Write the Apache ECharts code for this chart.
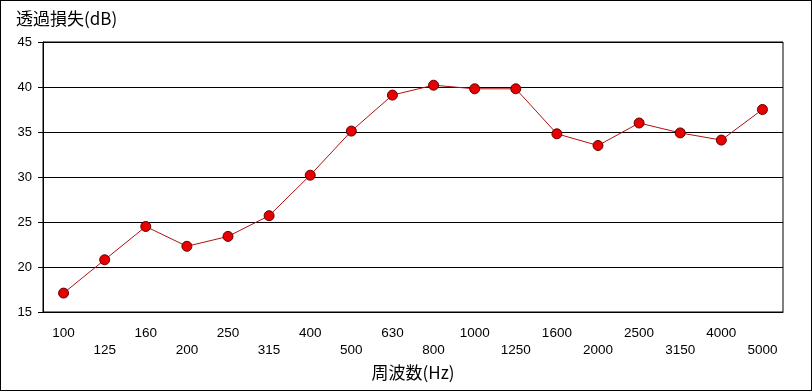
<!DOCTYPE html>
<html><head><meta charset="utf-8">
<script src="https://cdn.jsdelivr.net/npm/echarts@6/dist/echarts.min.js"></script>
<style>
html,body{margin:0;padding:0;background:#fff;}
#frame{position:absolute;left:0;top:0;width:810px;height:389px;border:1px solid #000;}
#c{position:absolute;left:0;top:0;width:812px;height:391px;}
</style></head>
<body>
<div id="frame"></div>
<div id="c"></div>
<script>
const categories = ['100','125','160','200','250','315','400','500','630','800','1000','1250','1600','2000','2500','3150','4000','5000'];
const transmissionLoss = [17.1,20.8,24.5,22.3,23.4,25.7,30.2,35.1,39.1,40.2,39.8,39.8,34.8,33.5,36.0,34.9,34.1,37.5];
const yTicks = [15,20,25,30,35,40,45];
const yTitle = '透過損失(dB)';
const xTitle = '周波数(Hz)';

const font = '"Liberation Sans", "Noto Sans CJK JP", sans-serif';
const chart = echarts.init(document.getElementById('c'));
chart.setOption({
  animation: false,
  backgroundColor: 'transparent',
  grid: {left: 43, right: 29, top: 42, bottom: 79, show: true, borderColor: '#000', borderWidth: 1},
  title: {text: yTitle, left: 11, top: 5, textStyle: {fontFamily: '"Noto Sans CJK JP", sans-serif', fontSize: 17, fontWeight: 'normal', color: '#000'}},
  xAxis: {
    type: 'category', data: categories, boundaryGap: true,
    name: xTitle, nameLocation: 'middle', nameGap: 52,
    nameTextStyle: {fontFamily: '"Noto Sans CJK JP", sans-serif', fontSize: 17, color: '#000'},
    axisLine: {lineStyle: {color: '#000', width: 1}},
    axisTick: {alignWithLabel: true, length: 8, lineStyle: {color: '#000'}},
    axisLabel: {interval: 0, color: '#000', fontFamily: font, fontSize: 13.5, margin: 13, lineHeight: 17,
      formatter: (v, i) => (i % 2 === 1 ? '\n' + v : v)}
  },
  yAxis: {
    type: 'value', min: yTicks[0], max: yTicks[yTicks.length-1], interval: 5,
    axisLine: {show: true, lineStyle: {color: '#000', width: 1}},
    axisTick: {show: true, length: 5, lineStyle: {color: '#000'}},
    splitLine: {show: true, lineStyle: {color: '#000', width: 1}},
    axisLabel: {color: '#000', fontFamily: font, fontSize: 13, margin: 11}
  },
  series: [{
    type: 'line', data: transmissionLoss,
    symbol: 'circle', symbolSize: 10,
    lineStyle: {color: '#b01010', width: 1},
    itemStyle: {color: '#e80000', borderColor: '#600000', borderWidth: 1}
  }]
});
</script>
</body></html>
